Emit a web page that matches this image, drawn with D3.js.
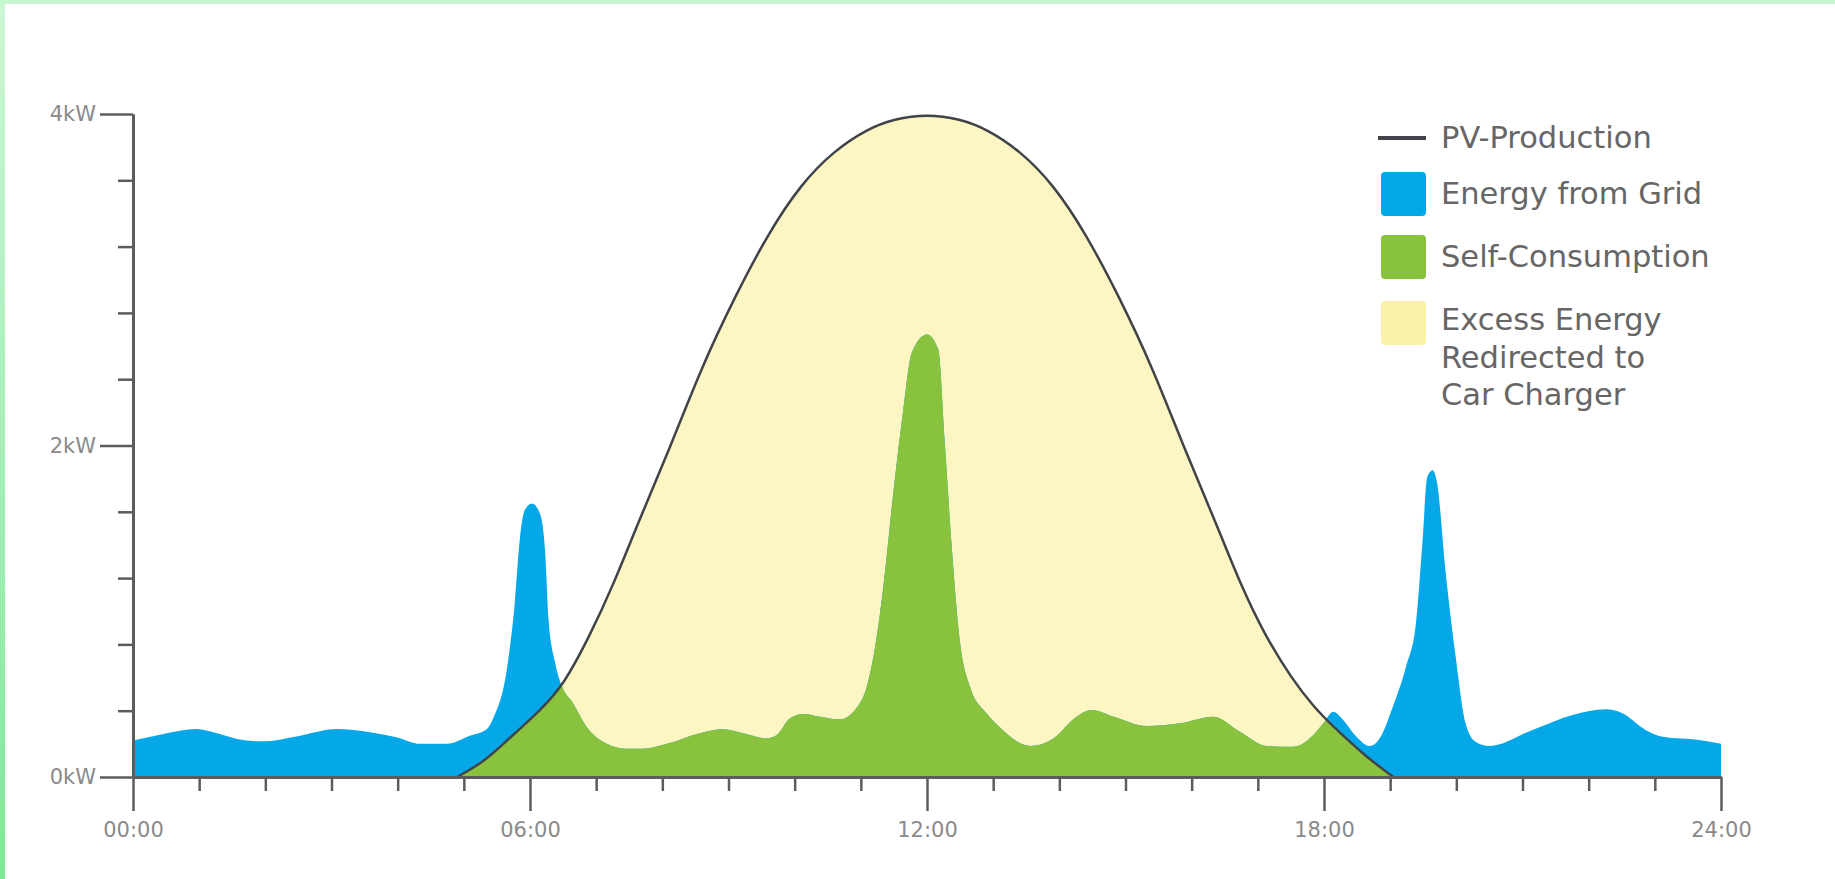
<!DOCTYPE html>
<html>
<head>
<meta charset="utf-8">
<script src="https://cdn.jsdelivr.net/npm/d3@7"></script>
<style>
  html, body { margin: 0; padding: 0; background: #fff; }
  svg { display: block; }
  .axis text { font-family: "DejaVu Sans", sans-serif; fill: #8a8a8a; }
  .legend text { font-family: "DejaVu Sans", sans-serif; fill: #666; font-size: 30.5px; }
</style>
</head>
<body>
<script>
// PV production curve (hour of day, kW)
const pvHours = [4.9, 5.3, 5.65, 6.15, 6.5, 6.9, 7.25, 7.65, 8.1, 8.6, 9.1, 9.6, 10.1, 10.6, 11.1, 11.5, 12,
                 12.5, 12.9, 13.4, 13.9, 14.4, 14.9, 15.4, 15.9, 16.35, 16.75, 17.1, 17.5, 17.85, 18.15, 18.64, 19.05];
const pvKw = [0, 0.09, 0.22, 0.40, 0.55, 0.85, 1.15, 1.55, 1.97, 2.48, 2.9, 3.28, 3.58, 3.78, 3.91, 3.97, 4.0,
              3.97, 3.91, 3.78, 3.58, 3.28, 2.9, 2.48, 1.97, 1.55, 1.15, 0.86, 0.6, 0.42, 0.3, 0.12, 0];

// household consumption (hour of day, kW)
const loadHours = [0, 0.46, 0.96, 1.26, 1.57, 1.97, 2.47, 3.08, 3.58, 3.98, 4.34, 4.74, 5.1, 5.35, 5.45, 5.65,
                   5.77, 5.85, 5.92, 6.03, 6.15, 6.23, 6.28, 6.38, 6.48, 6.65, 6.86, 7.16, 7.46, 7.7, 8.07,
                   8.57, 8.92, 9.22, 9.58, 9.73, 9.93, 10.13, 10.38, 10.68, 10.94, 11.09, 11.24, 11.34, 11.49,
                   11.64, 11.77, 12.0, 12.17, 12.27, 12.37, 12.5, 12.65, 12.9, 13.1, 13.56, 13.91, 14.26,
                   14.49, 14.82, 15.32, 15.82, 16.33, 16.73, 17.13, 17.54, 17.84, 17.99, 18.14, 18.29,
                   18.49, 18.69, 18.84, 19.04, 19.24, 19.39, 19.49, 19.56, 19.64, 19.71, 19.84, 19.99,
                   20.14, 20.29, 20.5, 21.15, 21.76, 22.26, 22.51, 22.86, 23.12, 23.67, 24];
const loadKw = [0.22, 0.26, 0.29, 0.265, 0.23, 0.215, 0.245, 0.29, 0.27, 0.24, 0.2, 0.2, 0.25, 0.29, 0.36, 0.65,
                1.05, 1.45, 1.61, 1.65, 1.59, 1.35, 0.95, 0.69, 0.55, 0.445, 0.3, 0.2, 0.17, 0.17, 0.2,
                0.264, 0.288, 0.264, 0.233, 0.253, 0.354, 0.38, 0.364, 0.348, 0.42, 0.545, 0.846, 1.15, 1.71,
                2.21, 2.56, 2.67, 2.58, 2.01, 1.41, 0.81, 0.545, 0.384, 0.3, 0.187, 0.233, 0.364,
                0.404, 0.364, 0.308, 0.324, 0.364, 0.273, 0.187, 0.183, 0.253, 0.324, 0.394, 0.344,
                0.243, 0.187, 0.233, 0.424, 0.666, 0.927, 1.43, 1.81, 1.85, 1.77, 1.23, 0.726,
                0.324, 0.213, 0.187, 0.284, 0.374, 0.408, 0.384, 0.284, 0.243, 0.223, 0.2];

// axis ticks
const xMajorTicks = [0, 6, 12, 18, 24];
const xMajorLabels = ["00:00", "06:00", "12:00", "18:00", "24:00"];
const xMinorTicks = [1, 2, 3, 4, 5, 7, 8, 9, 10, 11, 13, 14, 15, 16, 17, 19, 20, 21, 22, 23];
const yMajorTicks = [0, 2, 4];
const yMajorLabels = ["0kW", "2kW", "4kW"];
const yMinorTicks = [0.4, 0.8, 1.2, 1.6, 2.4, 2.8, 3.2, 3.6];

// legend
const legendLabels = [["PV-Production"], ["Energy from Grid"], ["Self-Consumption"],
                      ["Excess Energy", "Redirected to", "Car Charger"]];

document.addEventListener("DOMContentLoaded", function () {
    const w = 1835;
    const h = 879;

    const colors = {
        grid: "#04a8e8",
        self: "#89c23d",
        excess: "#fdf6c3",
        pv: "#404448",
        axis: "#5c5c5c"
    };

    const svg = d3.select("body")
        .append("svg")
        .attr("width", w)
        .attr("height", h);

    // thin green frame on the top and left
    const grad = svg.append("defs")
        .append("linearGradient")
        .attr("id", "frame")
        .attr("x1", 0).attr("y1", 0).attr("x2", 0).attr("y2", 1);
    grad.append("stop").attr("offset", "0%").attr("stop-color", "#cdf6d6");
    grad.append("stop").attr("offset", "100%").attr("stop-color", "#7fe899");

    svg.append("rect").attr("width", w).attr("height", h).attr("fill", "url(#frame)");
    svg.append("rect").attr("x", 0).attr("y", 0).attr("width", w).attr("height", 4).attr("fill", "#c6f5d0");
    svg.append("rect").attr("x", 5).attr("y", 4).attr("width", w - 5).attr("height", h - 4).attr("fill", "#fff");

    const xScale = d3.scaleLinear().domain([0, 24]).range([133, 1721]);
    const yScale = d3.scaleLinear().domain([0, 4]).range([777, 114]);

    const pv = pvHours.map((d, i) => ({ t: d, v: pvKw[i] }));
    const load = loadHours.map((d, i) => ({ t: d, v: loadKw[i] }));

    const loadArea = d3.area()
        .x(d => xScale(d.t))
        .y0(yScale(0))
        .y1(d => yScale(d.v))
        .curve(d3.curveMonotoneX);

    // PV curve is smooth, so a basis spline through the read points
    const pvArea = d3.area()
        .x(d => xScale(d.t))
        .y0(yScale(0))
        .y1(d => yScale(d.v))
        .curve(d3.curveBasis);

    const pvLine = d3.line()
        .x(d => xScale(d.t))
        .y(d => yScale(d.v))
        .curve(d3.curveBasis);

    svg.select("defs")
        .append("clipPath")
        .attr("id", "pv-clip")
        .append("path")
        .attr("d", pvArea(pv));

    // excess energy (under PV curve)
    svg.append("path")
        .attr("d", pvArea(pv))
        .attr("fill", colors.excess);

    // consumption from grid
    svg.append("path")
        .attr("d", loadArea(load))
        .attr("fill", colors.grid);

    // consumption covered by PV
    svg.append("path")
        .attr("d", loadArea(load))
        .attr("fill", colors.self)
        .attr("clip-path", "url(#pv-clip)");

    svg.append("path")
        .attr("d", pvLine(pv))
        .attr("fill", "none")
        .attr("stroke", colors.pv)
        .attr("stroke-width", 2.5);

    // axes
    const xMinor = d3.axisBottom(xScale).tickValues(xMinorTicks).tickSize(14).tickSizeOuter(0).tickFormat("");
    const xMajor = d3.axisBottom(xScale).tickValues(xMajorTicks).tickSize(34).tickSizeOuter(0)
        .tickPadding(11).tickFormat((d, i) => xMajorLabels[i]);
    const yMinor = d3.axisLeft(yScale).tickValues(yMinorTicks).tickSize(15).tickSizeOuter(0).tickFormat("");
    const yMajor = d3.axisLeft(yScale).tickValues(yMajorTicks).tickSize(33).tickSizeOuter(0)
        .tickPadding(4).tickFormat((d, i) => yMajorLabels[i]);

    [[xMinor, "x"], [xMajor, "x"], [yMinor, "y"], [yMajor, "y"]].forEach(([ax, k]) => {
        const g = svg.append("g")
            .attr("class", "axis")
            .attr("transform", k === "x" ? "translate(0," + yScale(0) + ")" : "translate(" + xScale(0) + ",0)")
            .call(ax);
        g.select(".domain").attr("stroke", colors.axis).attr("stroke-width", 3);
        g.selectAll(".tick line").attr("stroke", colors.axis).attr("stroke-width", 2.5);
        g.selectAll(".tick text").attr("font-size", 21).attr("fill", "#8a8a8a");
    });

    // legend
    const legend = svg.append("g").attr("class", "legend");
    const rowY = [138, 194, 257, 320];
    const swatch = [null, colors.grid, colors.self, "#fbf2aa"];

    legendLabels.forEach((lines, i) => {
        if (i === 0) {
            legend.append("line")
                .attr("x1", 1378).attr("x2", 1426)
                .attr("y1", rowY[i]).attr("y2", rowY[i])
                .attr("stroke", colors.pv)
                .attr("stroke-width", 4);
        } else {
            legend.append("rect")
                .attr("x", 1381).attr("y", (i === 3 ? 323 : rowY[i]) - 22)
                .attr("width", 45).attr("height", 44)
                .attr("rx", 4)
                .attr("fill", swatch[i]);
        }
        lines.forEach((txt, j) => {
            legend.append("text")
                .attr("x", 1441)
                .attr("y", rowY[i] + 10 + j * 37.5)
                .text(txt);
        });
    });
});
</script>
</body>
</html>
